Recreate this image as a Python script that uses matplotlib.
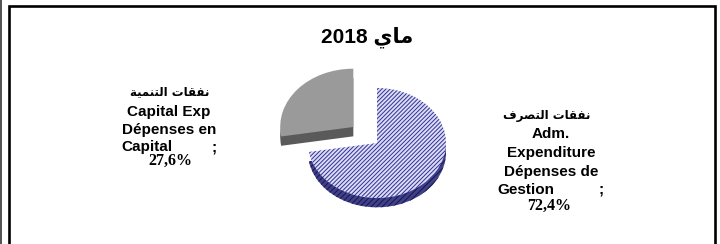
import matplotlib
matplotlib.use('Agg')
import matplotlib.pyplot as plt

# data
values = [72.4, 27.6]
pct_labels = ['72,4%', '27,6%']
title_ar = '2018 ' + '\uFEF1\uFE8E\uFEE3'  # ماي 2018 (shaped, visual order)
ar_adm = '\uFED1\uFEAE\uFEBC\uFE98\uFEDF\uFE8D \uFE95\uFE8E\uFED8\uFED4\uFEE7'  # نفقات التصرف
ar_cap = '\uFE94\uFEF4\uFEE4\uFEE8\uFE98\uFEDF\uFE8D \uFE95\uFE8E\uFED8\uFED4\uFEE7'  # نفقات التنمية
adm_lines = ['Adm.', 'Expenditure', 'Dépenses de']
cap_lines = ['Capital Exp', 'Dépenses en']

plt.rcParams['hatch.linewidth'] = 0.7

W, H = 720, 244
fig = plt.figure(figsize=(W / 100, H / 100), dpi=100)
fig.patch.set_facecolor('white')

# background axes in pixel coords for frame + text
bg = fig.add_axes([0, 0, 1, 1])
bg.set_xlim(0, W)
bg.set_ylim(H, 0)
bg.axis('off')

bg.plot([1, 1], [0, H], color='#333333', lw=1.2)
bg.plot([9, 9, 715, 715], [H, 6, 6, H], color='black', lw=1.9, solid_joinstyle='miter')

ar_font = ['DejaVu Sans']
lat = dict(fontsize=11, fontweight='bold', family='Liberation Sans')
pct = dict(fontsize=11.5, fontweight='bold', family='Liberation Serif')

bg.text(367, 37, title_ar, ha='center', va='center', fontsize=15, fontweight='bold',
        family=['Liberation Sans', 'DejaVu Sans'])

# left label (capital expenditure)
bg.text(170, 92, ar_cap, ha='center', va='center', fontsize=8.5, fontweight='bold', family=ar_font)
ys = [112, 130]
for y, t in zip(ys, cap_lines):
    bg.text(169, y, t, ha='center', va='center', **lat)
bg.text(121, 147, 'Capital', ha='left', va='center', **lat)
bg.text(214, 147, ';', ha='center', va='center', **lat)
bg.text(170, 161, pct_labels[1], ha='center', va='center', **pct)

# right label (adm. expenditure)
bg.text(547, 115, ar_adm, ha='center', va='center', fontsize=8.5, fontweight='bold', family=ar_font)
ys = [134, 153, 172]
for y, t in zip(ys, adm_lines):
    bg.text(551, y, t, ha='center', va='center', **lat)
bg.text(497, 190, 'Gestion', ha='left', va='center', **lat)
bg.text(601, 190, ';', ha='center', va='center', **lat)
bg.text(549, 206, pct_labels[0], ha='center', va='center', **pct)

# pie axes: 1 unit = 69 px horizontally, 55 px vertically, centre at (377,143)
cx, cy, rx, ry = 377, 143, 69, 55
x0, x1, y0, y1 = -2.2, 1.3, -1.4, 1.6
ax = fig.add_axes([(cx + x0 * rx) / W, (H - (cy - y0 * ry)) / H,
                   (x1 - x0) * rx / W, (y1 - y0) * ry / H])
explode = [0, 0.45]

# side (depth) of the pie
side, _ = ax.pie(values, startangle=90, counterclock=False, explode=explode,
                 center=(0, -0.17), colors=['#40408a', '#5a5a5a'],
                 wedgeprops=dict(linewidth=0))
side[0].set_hatch('//////')
side[0].set_edgecolor('#15154a')

top, _ = ax.pie(values, startangle=90, counterclock=False, explode=explode,
                center=(0, 0), colors=['#dcdcf2', '#9a9a9a'],
                wedgeprops=dict(linewidth=0))
top[0].set_hatch('////////')
top[0].set_edgecolor('#30309a')
for w in (side[1], top[1]):
    w.set_radius(1.06)

ax.set_aspect('auto')
ax.set_xlim(x0, x1)
ax.set_ylim(y0, y1)
ax.axis('off')

fig.savefig('out.png', dpi=100, facecolor='white')
